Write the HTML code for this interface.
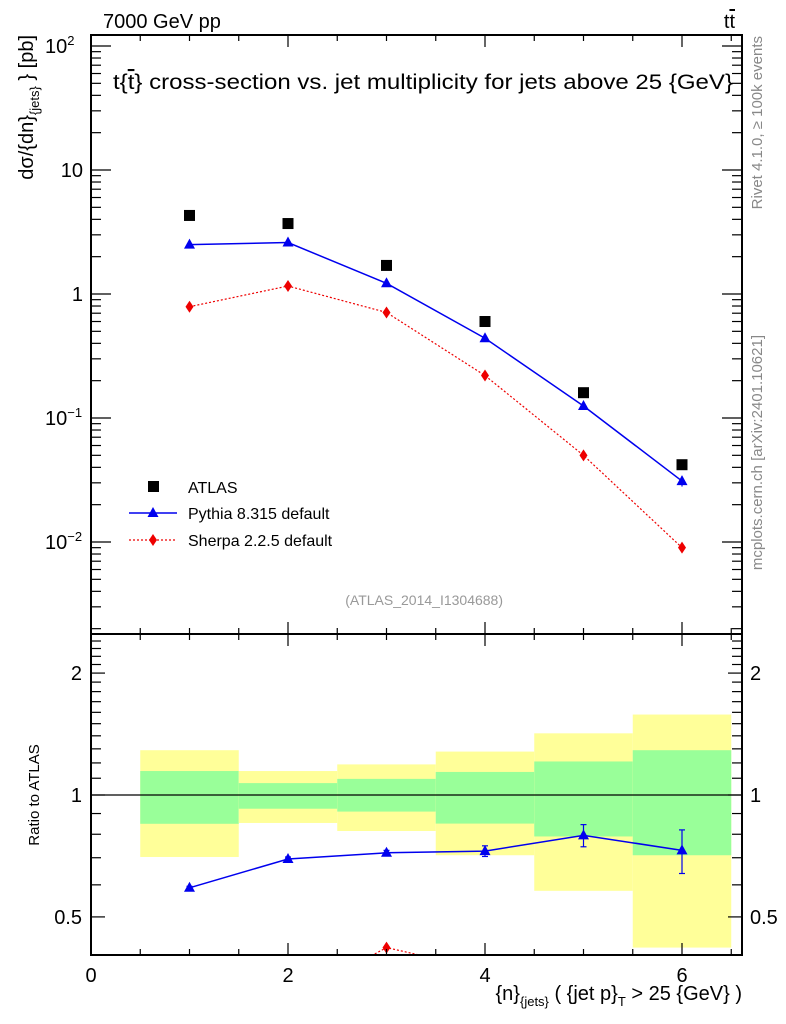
<!DOCTYPE html>
<html><head><meta charset="utf-8"><style>
body{margin:0;background:#fff;overflow:hidden;}
svg text{font-family:"Liberation Sans",sans-serif;}
</style></head><body>
<svg id="c" width="786" height="1024" viewBox="0 0 786 1024" xmlns="http://www.w3.org/2000/svg" style="display:block">
<g id="bands"></g>
<g id="marks"></g>
<g id="axes" stroke="#000" fill="none"></g>
<g id="labels"></g>
</svg>
<script>
const categories=[1,2,3,4,5,6];
const atlas=[4.3,3.7,1.7,0.6,0.16,0.042];
const pythia=[2.5,2.6,1.22,0.44,0.125,0.031];
const pythiaErr=[0.05,0.05,0.03,0.015,0.008,0.003];
const sherpa=[0.79,1.16,0.71,0.22,0.05,0.009];
const ratioPythia=[0.59,0.695,0.72,0.727,0.795,0.73];
const ratioPythiaErr=[0.005,0.008,0.01,0.022,0.05,0.09];
const ratioSherpa=[0.18,0.31,0.42,0.37,0.31,0.21];
const bandYellowHi=[1.29,1.146,1.19,1.28,1.42,1.58];
const bandGreenHi=[1.146,1.07,1.096,1.14,1.21,1.29];
const bandGreenLo=[0.849,0.925,0.91,0.85,0.79,0.71];
const bandYellowLo=[0.703,0.853,0.815,0.71,0.58,0.42];
const xTickLabels=["0","2","4","6"];

const NS="http://www.w3.org/2000/svg";
const X0=91,X1=742,PX=98.5;
const MT=35,MB=634,RT=634,RB=955;
const x=v=>X0+v*PX;
const ym=v=>294-124*Math.log10(v);
const yr=v=>795-405*Math.log10(v);
function el(p,t,a){const e=document.createElementNS(NS,t);for(const k in a)e.setAttribute(k,a[k]);p.appendChild(e);return e;}
const svg=document.getElementById('c');
const bands=document.getElementById('bands'),marks=document.getElementById('marks'),axes=document.getElementById('axes'),labels=document.getElementById('labels');
const defs=el(svg,'defs',{});
const cm=el(defs,'clipPath',{id:'cm'});el(cm,'rect',{x:X0,y:MT,width:X1-X0,height:MB-MT});
const cr=el(defs,'clipPath',{id:'cr'});el(cr,'rect',{x:X0,y:RT,width:X1-X0,height:RB-RT});
bands.setAttribute('clip-path','url(#cr)');
categories.forEach((c,i)=>{
  const y1=el(bands,'rect',{x:x(c-0.5),y:yr(bandYellowHi[i]),width:PX,height:yr(bandYellowLo[i])-yr(bandYellowHi[i]),fill:'#ffff99'});
  
  
  const g1=el(bands,'rect',{x:x(c-0.5),y:yr(bandGreenHi[i]),width:PX,height:yr(bandGreenLo[i])-yr(bandGreenHi[i]),fill:'#99ff99'});
  
  
});
el(bands,'line',{x1:X0,x2:X1,y1:yr(1),y2:yr(1),stroke:'#000','stroke-width':1.3});
const gm=el(marks,'g',{'clip-path':'url(#cm)'});
const gr=el(marks,'g',{'clip-path':'url(#cr)'});
function tri(g,cx,cy,col){return el(g,'polygon',{points:`${cx},${cy-6} ${cx-5.5},${cy+4} ${cx+5.5},${cy+4}`,fill:col});}
function dia(g,cx,cy,col){return el(g,'polygon',{points:`${cx},${cy-6} ${cx-4},${cy} ${cx},${cy+6} ${cx+4},${cy}`,fill:col});}
const lp=el(gm,'polyline',{points:categories.map((c,i)=>x(c)+','+ym(pythia[i])).join(' '),stroke:'#0000ee','stroke-width':1.5,fill:'none'});


const ls=el(gm,'polyline',{points:categories.map((c,i)=>x(c)+','+ym(sherpa[i])).join(' '),stroke:'#ee0000','stroke-width':1.2,'stroke-dasharray':'2,2',fill:'none'});


categories.forEach((c,i)=>{
  const a=el(gm,'rect',{x:x(c)-5.5,y:ym(atlas[i])-5.5,width:11,height:11,fill:'#000'});
  
  
  el(gm,'line',{x1:x(c),x2:x(c),y1:ym(pythia[i]+pythiaErr[i]),y2:ym(pythia[i]-pythiaErr[i]),stroke:'#0000ee','stroke-width':1.2});
  const p=tri(gm,x(c),ym(pythia[i]),'#0000ee');
  
  
  const s=dia(gm,x(c),ym(sherpa[i]),'#ee0000');
  
  
});
const rp=el(gr,'polyline',{points:categories.map((c,i)=>x(c)+','+yr(ratioPythia[i])).join(' '),stroke:'#0000ee','stroke-width':1.5,fill:'none'});


const rs=el(gr,'polyline',{points:categories.map((c,i)=>x(c)+','+yr(ratioSherpa[i])).join(' '),stroke:'#ee0000','stroke-width':1.2,'stroke-dasharray':'2,2',fill:'none'});


categories.forEach((c,i)=>{
  const lo=yr(ratioPythia[i]-ratioPythiaErr[i]),hi=yr(ratioPythia[i]+ratioPythiaErr[i]);
  el(gr,'line',{x1:x(c),x2:x(c),y1:hi,y2:lo,stroke:'#0000ee','stroke-width':1.2});
  el(gr,'line',{x1:x(c)-3,x2:x(c)+3,y1:hi,y2:hi,stroke:'#0000ee','stroke-width':1.2});
  el(gr,'line',{x1:x(c)-3,x2:x(c)+3,y1:lo,y2:lo,stroke:'#0000ee','stroke-width':1.2});
  const p=tri(gr,x(c),yr(ratioPythia[i]),'#0000ee');
  
  
  const s=dia(gr,x(c),yr(ratioSherpa[i]),'#ee0000');
  
  
});
el(axes,'rect',{x:X0,y:MT,width:X1-X0,height:MB-MT,'stroke-width':2});
el(axes,'rect',{x:X0,y:RT,width:X1-X0,height:RB-RT,'stroke-width':2});
for(let v=0;v<=6.5;v+=0.5){
  const L=(v%2===0)?12:6;
  [[MT,1],[MB,-1],[RT,1],[RB,-1]].forEach(([y0,d])=>el(axes,'line',{x1:x(v),x2:x(v),y1:y0,y2:y0+d*L,'stroke-width':1.2}));
}
for(let e=-3;e<=2;e++)for(let m=1;m<10;m++){
  const v=m*Math.pow(10,e);const y=ym(v);if(y<MT||y>MB)continue;
  const L=m===1?20:10;
  el(axes,'line',{x1:X0,x2:X0+L,y1:y,y2:y,'stroke-width':1.2});
  el(axes,'line',{x1:X1,x2:X1-L,y1:y,y2:y,'stroke-width':1.2});
}
[0.4,0.5,0.6,0.7,0.8,0.9,1,1.1,1.2,1.3,1.4,1.5,1.6,1.7,1.8,1.9,2,2.1,2.2,2.3,2.4].forEach(v=>{
  const y=yr(v);if(y<RT||y>RB)return;
  const L=(v===0.5||v===1||v===2)?14:10;
  el(axes,'line',{x1:X0,x2:X0+L,y1:y,y2:y,'stroke-width':1.2});
  el(axes,'line',{x1:X1,x2:X1-L,y1:y,y2:y,'stroke-width':1.2});
});
function txt(p,s,a,name){const t=el(p,'text',a);t.innerHTML=s;return t;}
[[2,'10<tspan dy="-8" font-size="13">2</tspan>'],[1,'10'],[0,'1'],[-1,'10<tspan dy="-8" font-size="13">−1</tspan>'],[-2,'10<tspan dy="-8" font-size="13">−2</tspan>']].forEach(([e,s])=>{
  txt(labels,s,{x:(e===2||e<0)?45:83,y:ym(Math.pow(10,e))+7,'font-size':20,'text-anchor':(e===2||e<0)?'start':'end'},'y-tick-label');
});
[[2,'2'],[1,'1'],[0.5,'0.5']].forEach(([v,s])=>{
  txt(labels,s,{x:82,y:yr(v)+7,'font-size':20,'text-anchor':'end'},'ratio-y-tick-label-left');
  txt(labels,s,{x:750,y:yr(v)+7,'font-size':20},'ratio-y-tick-label-right');
});
xTickLabels.forEach(s=>txt(labels,s,{x:x(+s),y:982,'font-size':20,'text-anchor':'middle'},'x-tick-label'));
txt(labels,'{n}<tspan dy="6" font-size="13">{jets}</tspan><tspan dy="-6"> ( {jet p}</tspan><tspan dy="6" font-size="13">T</tspan><tspan dy="-6"> &gt; 25 {GeV} )</tspan>',{x:742,y:1000,'font-size':20,'text-anchor':'end'},'x-axis-title');
txt(labels,'Ratio to ATLAS',{x:0,y:0,'font-size':15,'text-anchor':'middle',transform:'translate(39,795) rotate(-90)'},'ratio-y-axis-title');
txt(labels,'dσ/{dn}<tspan dy="6" font-size="13">{jets}</tspan><tspan dy="-6"> } [pb]</tspan>',{x:0,y:0,'font-size':20,'text-anchor':'end',transform:'translate(33,35) rotate(-90)'},'y-axis-title');
txt(labels,'7000 GeV pp',{x:103,y:28,'font-size':20},'energy-label');
txt(labels,'t<tspan text-decoration="overline">t</tspan>',{x:735,y:28,'font-size':20,'text-anchor':'end'},'process-label');
txt(labels,'t{<tspan text-decoration="overline">t</tspan>} cross-section vs. jet multiplicity for jets above 25 {GeV}',{x:113,y:89,'font-size':21,textLength:620,lengthAdjust:'spacingAndGlyphs'},'plot-title');
txt(labels,'Rivet 4.1.0, ≥ 100k events',{x:0,y:0,'font-size':15,fill:'#888','text-anchor':'end',transform:'translate(762,36) rotate(-90)'},'rivet-label');
txt(labels,'mcplots.cern.ch [arXiv:2401.10621]',{x:0,y:0,'font-size':15,fill:'#888','text-anchor':'end',transform:'translate(762,335) rotate(-90)'},'mcplots-label');
txt(labels,'(ATLAS_2014_I1304688)',{x:503,y:605,'font-size':14,fill:'#999','text-anchor':'end'},'analysis-id');
const lg=el(labels,'g',{});


el(lg,'rect',{x:148,y:481,width:11,height:11,fill:'#000'});
txt(lg,'ATLAS',{x:188,y:493,'font-size':16},'legend-entry-atlas');
el(lg,'line',{x1:129,x2:177,y1:513,y2:513,stroke:'#0000ee','stroke-width':1.5});
tri(lg,153,513,'#0000ee');
txt(lg,'Pythia 8.315 default',{x:188,y:519,'font-size':16},'legend-entry-pythia');
el(lg,'line',{x1:129,x2:177,y1:540,y2:540,stroke:'#ee0000','stroke-width':1.2,'stroke-dasharray':'2,2'});
dia(lg,153,540,'#ee0000');
txt(lg,'Sherpa 2.2.5 default',{x:188,y:546,'font-size':16},'legend-entry-sherpa');
</script>
</body></html>
